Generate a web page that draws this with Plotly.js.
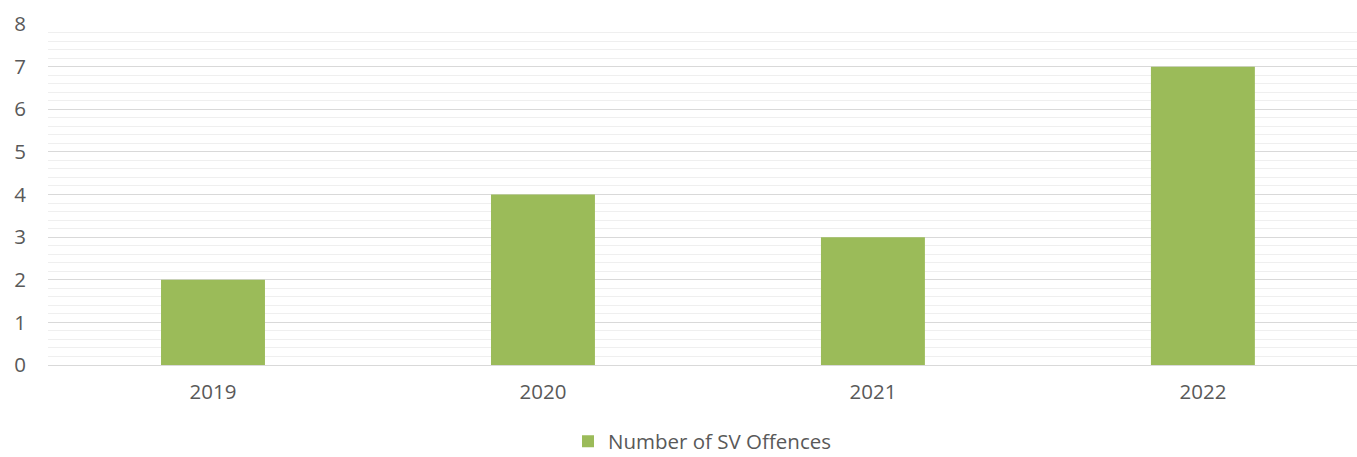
<!DOCTYPE html>
<html><head><meta charset="utf-8">
<script src="https://cdn.plot.ly/plotly-3.0.1.min.js"></script>
<style>html,body{margin:0;padding:0;background:#fff;}#c{width:1357px;height:457px;}</style>
</head><body><div id="c"></div>
<script>
const categories = ["2019", "2020", "2021", "2022"];
const offences = [2, 4, 3, 7];
const seriesName = "Number of SV Offences";

const trace = {
  type: "bar", x: categories, y: offences, name: seriesName,
  marker: {color: "#9BBB59"}, width: 0.315, showlegend: true, hoverinfo: "x+y"
};
const layout = {
  width: 1357, height: 457,
  margin: {l: 48, r: 0, t: 24, b: 92, autoexpand: false},
  paper_bgcolor: "#fff", plot_bgcolor: "#fff",
  font: {family: "Open Sans, Liberation Sans, sans-serif", size: 20, color: "#595959"},
  xaxis: {type: "category", range: [-0.5, 3.467], showgrid: false, zeroline: false,
          showline: false, ticks: "", ticklabelstandoff: 12, tickfont: {size: 20.5, color: "#595959"}},
  yaxis: {range: [0, 8], dtick: 1, showgrid: true, gridcolor: "#d9d9d9", gridwidth: 1,
          minor: {dtick: 0.2, showgrid: true, gridcolor: "#efefef", gridwidth: 1},
          zeroline: true, zerolinecolor: "#d9d9d9", zerolinewidth: 1,
          showline: false, ticks: "", ticklen: 0, ticklabelstandoff: 21,
          tickfont: {size: 20.5, color: "#595959"}},
  legend: {orientation: "h", x: 0.5, xanchor: "center", y: -0.224, yanchor: "middle",
           maxheight: 1, font: {size: 20.5, color: "#595959"}},
  bargap: 0.685
};
Plotly.newPlot("c", [trace], layout, {displayModeBar: false, staticPlot: true});
</script></body></html>
